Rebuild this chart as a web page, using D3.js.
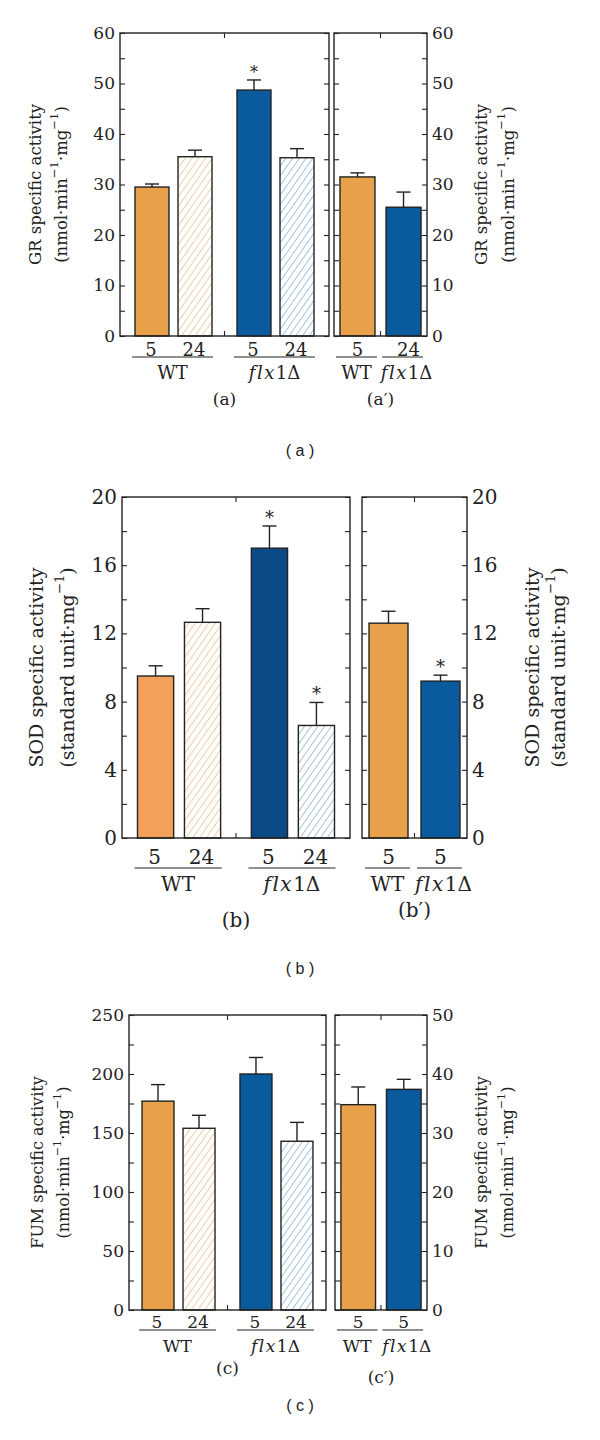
<!DOCTYPE html>
<html><head><meta charset="utf-8">
<script src="https://cdn.jsdelivr.net/npm/d3@7"></script>
<style>
html,body{margin:0;padding:0;background:#fff;}
svg{display:block;}
</style>
</head><body>
<script>
// ---------- DATA ----------
const groups = ["WT", "flx1Δ"];
const hours = ["5", "24"];

const grValues = [29.5, 35.5, 48.7, 35.3];
const grErrors = [0.6, 1.3, 2.0, 1.8];
const grStars = [false, false, true, false];
const grPrimeHours = ["5", "24"];
const grPrimeValues = [31.5, 25.5];
const grPrimeErrors = [0.8, 3.0];
const grPrimeStars = [false, false];
const grTicks = [0, 10, 20, 30, 40, 50, 60];

const sodValues = [9.5, 12.65, 17.0, 6.6];
const sodErrors = [0.6, 0.8, 1.3, 1.35];
const sodStars = [false, false, true, true];
const sodPrimeHours = ["5", "5"];
const sodPrimeValues = [12.6, 9.2];
const sodPrimeErrors = [0.7, 0.35];
const sodPrimeStars = [false, true];
const sodTicks = [0, 4, 8, 12, 16, 20];

const fumValues = [177, 154, 200, 143];
const fumErrors = [14, 11, 14, 16];
const fumStars = [false, false, false, false];
const fumPrimeHours = ["5", "5"];
const fumPrimeValues = [34.8, 37.4];
const fumPrimeErrors = [3.0, 1.7];
const fumPrimeStars = [false, false];
const fumTicks = [0, 50, 100, 150, 200, 250];
const fumPrimeTicks = [0, 10, 20, 30, 40, 50];

// ---------- STYLE ----------
const SERIF = "'DejaVu Serif','Liberation Serif',serif";
const SANS = "'Liberation Sans','DejaVu Sans',sans-serif";
const ORANGE = "#E9A04B", ORANGE_B = "#F2A05A";
const BLUE = "#0A5A9E", BLUE_B = "#0A4A86";
const ORANGE_HATCH = "#E9A862", BLUE_HATCH = "#5E95C7";
const INK = "#222";

const svg = d3.select("body").append("svg").attr("width", 600).attr("height", 1440);
const defs = svg.append("defs");
function hatch(id, color, gap) {
  const p = defs.append("pattern").attr("id", id).attr("patternUnits", "userSpaceOnUse")
    .attr("width", gap).attr("height", gap).attr("patternTransform", "rotate(35)");
  p.append("rect").attr("width", gap).attr("height", gap).attr("fill", "#fff");
  p.append("line").attr("x1", 0).attr("y1", 0).attr("x2", 0).attr("y2", gap)
    .attr("stroke", color).attr("stroke-width", 1.1);
}
hatch("hO", ORANGE_HATCH, 5.5);
hatch("hB", BLUE_HATCH, 5.5);

function flxLabel(sel) {
  sel.append("tspan").attr("font-style", "italic").attr("letter-spacing", "1.5").text("flx");
  sel.append("tspan").text("1Δ");
}

function frame(g, x0, x1, y, ticks, minorTicks, leftLabels, rightLabels, fs) {
  const top = y.range()[1], bot = y.range()[0];
  g.append("rect").attr("x", x0).attr("y", top).attr("width", x1 - x0).attr("height", bot - top)
    .attr("fill", "none").attr("stroke", INK).attr("stroke-width", 1.4);
  const mk = (axis, x, labels) => {
    const a = g.append("g").attr("transform", `translate(${x},0)`)
      .call(axis(y).tickValues(ticks).tickSizeInner(-5).tickSizeOuter(0).tickPadding(5)
        .tickFormat(labels ? d3.format("d") : () => ""));
    a.select(".domain").remove();
    a.selectAll("line").attr("stroke", INK).attr("stroke-width", 1.1);
    a.selectAll("text").attr("font-family", SERIF).attr("font-size", fs).attr("fill", "#222");
    const m = g.append("g").attr("transform", `translate(${x},0)`)
      .call(axis(y).tickValues(minorTicks).tickSizeInner(-5).tickSizeOuter(0).tickFormat(() => ""));
    m.select(".domain").remove();
    m.selectAll("line").attr("stroke", INK).attr("stroke-width", 1.1);
  };
  mk(d3.axisLeft, x0, leftLabels);
  mk(d3.axisRight, x1, rightLabels);
  const mid = (x0 + x1) / 2;
  g.append("line").attr("x1", mid).attr("x2", mid).attr("y1", top).attr("y2", top + 5).attr("stroke", INK).attr("stroke-width", 1.1);
  g.append("line").attr("x1", mid).attr("x2", mid).attr("y1", bot).attr("y2", bot - 5).attr("stroke", INK).attr("stroke-width", 1.1);
}

function bars(g, data, y, fills) {
  const bot = y.range()[0];
  data.forEach((d, i) => {
    g.append("rect").attr("x", d.x).attr("y", y(d.v)).attr("width", d.w).attr("height", bot - y(d.v))
      .attr("fill", fills[i]).attr("stroke", INK).attr("stroke-width", 1.4);
    const cx = d.x + d.w / 2, cap = 7;
    g.append("line").attr("x1", cx).attr("x2", cx).attr("y1", y(d.v)).attr("y2", y(d.v + d.e)).attr("stroke", INK).attr("stroke-width", 1.4);
    g.append("line").attr("x1", cx - cap).attr("x2", cx + cap).attr("y1", y(d.v + d.e)).attr("y2", y(d.v + d.e)).attr("stroke", INK).attr("stroke-width", 1.4);
    if (d.star) {
      g.append("text").attr("x", cx).attr("y", y(d.v + d.e) - 2).attr("text-anchor", "middle")
        .attr("font-family", SERIF).attr("font-size", d.starSize).attr("fill", "#222").text("*");
    }
  });
}

function yLabel(x1, x2, cy, line1, unitParts, fs) {
  svg.append("text").attr("transform", `translate(${x1},${cy}) rotate(-90)`)
    .attr("text-anchor", "middle").attr("dominant-baseline", "central")
    .attr("font-family", SERIF).attr("font-size", fs).attr("fill", "#222").text(line1);
  const t2 = svg.append("text").attr("transform", `translate(${x2},${cy}) rotate(-90)`)
    .attr("text-anchor", "middle").attr("dominant-baseline", "central")
    .attr("font-family", SERIF).attr("font-size", fs).attr("fill", "#222");
  let raised = false;
  unitParts.forEach(p => {
    const s = t2.append("tspan").text(p.t);
    if (p.sup) {
      s.attr("font-size", fs * 0.7).attr("dy", raised ? 0 : -fs * 0.4);
      raised = true;
    } else {
      if (raised) s.attr("dy", fs * 0.4);
      raised = false;
    }
  });
}

function drawSet(cfg) {
  const g = svg.append("g");
  const y = d3.scaleLinear().domain([0, cfg.ticks[cfg.ticks.length - 1]]).range([cfg.bot, cfg.top]);
  const minor = cfg.ticks.slice(0, -1).map((t, i) => (t + cfg.ticks[i + 1]) / 2);
  const gx = d3.scaleBand().domain(groups).range([cfg.x0, cfg.x1]).paddingInner(cfg.gp).paddingOuter(cfg.go);
  const hx = d3.scaleBand().domain(hours).range([0, gx.bandwidth()]).paddingInner(cfg.hp).paddingOuter(0);
  const data = cfg.values.map((v, i) => ({
    x: gx(groups[Math.floor(i / 2)]) + hx(hours[i % 2]), w: hx.bandwidth(), v, e: cfg.errors[i],
    star: cfg.stars[i], starSize: cfg.starSize
  }));
  bars(g, data, y, cfg.fills);
  frame(g, cfg.x0, cfg.x1, y, cfg.ticks, minor, true, false, cfg.fs);
  data.forEach((d, i) => {
    g.append("text").attr("x", d.x + d.w / 2 - 1).attr("y", cfg.hy).attr("text-anchor", "middle")
      .attr("font-family", SERIF).attr("font-size", cfg.lfs).attr("fill", "#222").text(hours[i % 2]);
  });
  groups.forEach((gr, i) => {
    const a = gx(gr) - 3, b = gx(gr) + gx.bandwidth() + 1;
    g.append("line").attr("x1", a).attr("x2", b).attr("y1", cfg.uy).attr("y2", cfg.uy).attr("stroke", INK).attr("stroke-width", 1.2);
    const t = g.append("text").attr("x", (a + b) / 2).attr("y", cfg.gy).attr("text-anchor", "middle")
      .attr("font-family", SERIF).attr("font-size", cfg.lfs).attr("fill", "#222");
    if (i === 0) t.text(gr); else flxLabel(t);
  });
  g.append("text").attr("x", (cfg.x0 + cfg.x1) / 2).attr("y", cfg.cy).attr("text-anchor", "middle")
    .attr("font-family", SERIF).attr("font-size", cfg.cfs).attr("fill", "#222").text(cfg.cap);

  const gp = svg.append("g");
  const yp = d3.scaleLinear().domain([0, cfg.pticks[cfg.pticks.length - 1]]).range([cfg.bot, cfg.top]);
  const pminor = cfg.pticks.slice(0, -1).map((t, i) => (t + cfg.pticks[i + 1]) / 2);
  const px = d3.scaleBand().domain(groups).range([cfg.px0, cfg.px1]).paddingInner(cfg.pp).paddingOuter(cfg.po);
  const pdata = cfg.pvalues.map((v, i) => ({
    x: px(groups[i]), w: px.bandwidth(), v, e: cfg.perrors[i], star: cfg.pstars[i], starSize: cfg.starSize
  }));
  bars(gp, pdata, yp, cfg.pfills);
  frame(gp, cfg.px0, cfg.px1, yp, cfg.pticks, pminor, false, true, cfg.fs);
  pdata.forEach((d, i) => {
    const off = cfg.phours[i] === "24" ? 5 : 0;
    gp.append("text").attr("x", d.x + d.w / 2 + off).attr("y", cfg.hy).attr("text-anchor", "middle")
      .attr("font-family", SERIF).attr("font-size", cfg.lfs).attr("fill", "#222").text(cfg.phours[i]);
    const a = d.x - 4, b = d.x + d.w + 2;
    gp.append("line").attr("x1", a).attr("x2", b).attr("y1", cfg.uy).attr("y2", cfg.uy).attr("stroke", INK).attr("stroke-width", 1.2);
    const t = gp.append("text").attr("x", d.x + d.w / 2 + (i ? 3 : -1)).attr("y", cfg.gy).attr("text-anchor", "middle")
      .attr("font-family", SERIF).attr("font-size", cfg.lfs).attr("fill", "#222");
    if (i === 0) t.text(groups[0]); else flxLabel(t);
  });
  gp.append("text").attr("x", (cfg.px0 + cfg.px1) / 2).attr("y", cfg.pcy).attr("text-anchor", "middle")
    .attr("font-family", SERIF).attr("font-size", cfg.cfs).attr("fill", "#222").text(cfg.pcap);

  const cyl = (cfg.top + cfg.bot) / 2;
  yLabel(cfg.ly1, cfg.ly2, cyl, cfg.title, cfg.unit, cfg.tfs);
  yLabel(cfg.ry1, cfg.ry2, cyl, cfg.title, cfg.unit, cfg.tfs);
  svg.append("text").attr("x", 300).attr("y", cfg.fy).attr("text-anchor", "middle")
    .attr("font-family", SANS).attr("font-size", 16).attr("fill", "#222").text(cfg.fcap);
}

const unitNmol = [{t: "(nmol·min"}, {t: "−1", sup: true}, {t: "·mg"}, {t: "−1", sup: true}, {t: ")"}];
const unitStd = [{t: "(standard unit·mg"}, {t: "−1", sup: true}, {t: ")"}];

drawSet({
  values: grValues, errors: grErrors, stars: grStars, ticks: grTicks,
  pvalues: grPrimeValues, perrors: grPrimeErrors, pstars: grPrimeStars, pticks: grTicks, phours: grPrimeHours,
  fills: [ORANGE, "url(#hO)", BLUE, "url(#hB)"], pfills: [ORANGE, BLUE],
  x0: 120, x1: 329, top: 33, bot: 336, gp: 0.245, go: 0.147, hp: 0.21,
  px0: 334, px1: 427, pp: 0.24, po: 0.13,
  fs: 17, lfs: 18, cfs: 17, tfs: 16.5, starSize: 16,
  hy: 356, uy: 357, gy: 379, cy: 405, pcy: 405,
  cap: "(a)", pcap: "(a′)",
  title: "GR specific activity", unit: unitNmol,
  ly1: 35, ly2: 61, ry1: 481, ry2: 508,
  fcap: "( a )", fy: 456
});

drawSet({
  values: sodValues, errors: sodErrors, stars: sodStars, ticks: sodTicks,
  pvalues: sodPrimeValues, perrors: sodPrimeErrors, pstars: sodPrimeStars, pticks: sodTicks, phours: sodPrimeHours,
  fills: [ORANGE_B, "url(#hO)", BLUE_B, "url(#hB)"], pfills: [ORANGE, BLUE],
  x0: 122, x1: 350, top: 497, bot: 838, gp: 0.27, go: 0.136, hp: 0.23,
  px0: 362, px1: 467, pp: 0.25, po: 0.135,
  fs: 20, lfs: 20, cfs: 20, tfs: 19, starSize: 18,
  hy: 864, uy: 868, gy: 891, cy: 927, pcy: 917,
  cap: "(b)", pcap: "(b′)",
  title: "SOD specific activity", unit: unitStd,
  ly1: 36, ly2: 67, ry1: 532, ry2: 558,
  fcap: "( b )", fy: 974
});

drawSet({
  values: fumValues, errors: fumErrors, stars: fumStars, ticks: fumTicks,
  pvalues: fumPrimeValues, perrors: fumPrimeErrors, pstars: fumPrimeStars, pticks: fumPrimeTicks, phours: fumPrimeHours,
  fills: [ORANGE, "url(#hO)", BLUE, "url(#hB)"], pfills: [ORANGE, BLUE],
  x0: 129, x1: 326, top: 1015, bot: 1310, gp: 0.255, go: 0.133, hp: 0.22,
  px0: 335, px1: 427, pp: 0.24, po: 0.13,
  fs: 17, lfs: 17, cfs: 17, tfs: 16, starSize: 16,
  hy: 1328, uy: 1330, gy: 1352, cy: 1374, pcy: 1383,
  cap: "(c)", pcap: "(c′)",
  title: "FUM specific activity", unit: unitNmol,
  ly1: 37, ly2: 63, ry1: 481, ry2: 507,
  fcap: "( c )", fy: 1411
});
</script>
</body></html>
